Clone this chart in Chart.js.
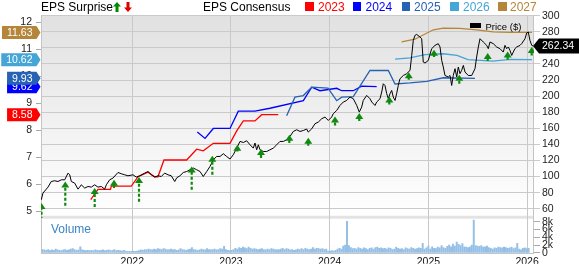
<!DOCTYPE html>
<html><head><meta charset="utf-8">
<script src="https://cdn.jsdelivr.net/npm/chart.js@4.4.1/dist/chart.umd.min.js"></script>
<style>
html,body{margin:0;padding:0;background:#fff;}
#wrap{position:relative;width:579px;height:264px;overflow:hidden;font-family:"Liberation Sans",Arial,sans-serif;}
canvas{position:absolute;left:0;top:0;}
.t{position:absolute;white-space:nowrap;font-size:12px;line-height:14px;top:0;color:#000;}
.sq{position:absolute;top:2px;width:8.5px;height:8.5px;}
</style></head>
<body>
<div id="wrap">
<canvas id="c" width="579" height="264"></canvas>
<div class="t" style="left:41px">EPS Surprise</div>
<svg style="position:absolute;left:113px;top:2px" width="20" height="11" viewBox="0 0 20 11">
 <path d="M4 0 L8 4.5 L5.5 4.5 L5.5 10 L2.5 10 L2.5 4.5 L0 4.5 Z" fill="#008a00"/>
 <path d="M15 10 L19 5.5 L16.5 5.5 L16.5 0 L13.5 0 L13.5 5.5 L11 5.5 Z" fill="#e00000"/>
</svg>
<div class="t" style="left:203px">EPS Consensus</div>
<div class="sq" style="left:305px;background:#ff0000"></div><div class="t" style="left:318px;color:#ff0000">2023</div>
<div class="sq" style="left:352.5px;background:#0000ff"></div><div class="t" style="left:365.5px;color:#0000ff">2024</div>
<div class="sq" style="left:401.5px;background:#2862b4"></div><div class="t" style="left:414px;color:#2862b4">2025</div>
<div class="sq" style="left:450px;background:#45a5d6"></div><div class="t" style="left:463px;color:#45a5d6">2026</div>
<div class="sq" style="left:498px;background:#b5853a"></div><div class="t" style="left:510px;color:#b5853a">2027</div>
<div style="position:absolute;left:470px;top:23px;width:11px;height:5px;background:#000"></div>
<div class="t" style="left:485.5px;top:20.5px;font-size:9.5px;line-height:11px">Price ($)</div>
<div class="t" style="left:51px;top:221.5px;color:#3a85c8">Volume</div>
</div>
<script>
// ---------------- data ----------------
const yearTicks = [2022, 2023, 2024, 2025, 2026];
const priceTicks = [60, 80, 100, 120, 140, 160, 180, 200, 220, 240, 260, 280, 300];
const epsTicks = [5, 6, 7, 8, 9, 10, 11, 12];
const volumeTicks = [0, 2, 4, 6, 8];

const priceYears = [2021.078,2021.095,2021.146,2021.179,2021.214,2021.247,2021.281,2021.315,2021.349,2021.366,2021.382,2021.416,2021.45,2021.467,2021.483,2021.518,2021.551,2021.585,2021.619,2021.652,2021.686,2021.72,2021.737,2021.771,2021.804,2021.855,2021.889,2021.923,2021.956,2022.007,2022.041,2022.075,2022.126,2022.159,2022.193,2022.227,2022.26,2022.294,2022.328,2022.362,2022.395,2022.43,
2022.45,2022.483,2022.517,2022.551,2022.585,2022.618,2022.652,2022.686,2022.719,2022.754,2022.787,2022.821,2022.855,2022.889,2022.922,2022.956,2022.99,2023.023,2023.058,2023.091,2023.125,2023.159,2023.193,2023.226,2023.243,2023.26,2023.277,2023.294,2023.327,2023.362,2023.395,2023.429,2023.463,2023.496,2023.53,2023.564,2023.598,2023.631,2023.666,2023.699,2023.733,2023.767,
2023.783,2023.818,2023.851,2023.885,2023.919,2023.952,2023.986,2024.02,2024.036,2024.071,2024.104,2024.138,2024.172,2024.206,2024.239,2024.274,2024.3,2024.324,2024.34,2024.375,2024.408,2024.426,2024.459,2024.476,2024.51,2024.527,2024.543,2024.56,2024.578,2024.594,2024.611,2024.628,2024.644,2024.662,2024.678,2024.695,2024.712,2024.746,2024.78,2024.814,2024.831,2024.847,2024.864,2024.881,2024.915,
2024.932,2024.948,2024.966,2024.999,2025.033,2025.067,2025.1,2025.118,2025.135,2025.151,2025.168,2025.202,2025.219,2025.236,2025.252,2025.27,2025.287,2025.303,2025.32,2025.337,2025.354,2025.371,2025.404,2025.439,2025.472,2025.489,2025.506,2025.523,2025.556,2025.591,2025.607,2025.624,2025.658,2025.692,2025.725,2025.759,2025.776,2025.793,2025.81,2025.827,2025.844,2025.86,2025.877,2025.895,2025.928,2025.945,2025.979,2025.996,2026.012,2026.029,2026.047,2026.06];
const priceValues = [71.1,79.5,86.9,93.9,94.8,93.9,96.0,96.0,104.3,102.2,93.9,91.9,84.4,86.9,89.8,85.7,87.7,86.9,89.8,86.9,87.7,84.4,89.8,96.0,98.1,105.1,103.5,102.2,101.0,102.2,99.4,101.0,104.3,106.3,102.2,99.4,101.0,100.1,104.3,102.2,101.0,93.9,
98.5,101.0,105.1,106.3,108.5,110.6,108.5,106.3,100.1,106.3,112.6,120.9,125.0,125.0,128.4,125.0,121.8,127.1,135.4,143.7,142.4,144.5,139.5,135.4,141.7,133.3,139.5,133.3,131.2,131.2,133.3,135.4,139.5,143.7,143.7,145.8,149.9,156.1,158.2,156.1,157.3,159.1,
155.3,159.4,165.7,167.8,171.9,174.0,169.8,174.0,178.1,182.2,188.4,192.7,194.6,198.9,196.8,188.4,180.2,186.4,194.6,200.9,196.8,192.7,188.4,192.7,196.8,205.1,215.4,213.3,203.0,196.8,203.0,207.1,198.9,194.6,203.0,213.3,221.6,225.7,227.9,232.0,250.6,269.3,275.5,276.7,273.5,
271.4,242.4,241.2,244.4,259.0,263.1,265.2,261.1,244.4,236.2,225.7,223.8,225.7,213.3,225.7,234.1,223.8,236.2,227.9,232.0,238.2,230.0,225.7,225.7,234.1,248.6,261.1,271.4,267.3,263.1,259.0,267.3,265.2,261.1,259.0,254.8,263.1,259.0,261.1,256.8,250.6,254.8,259.0,261.1,263.1,265.2,271.4,278.5,279.7,269.3,263.1,262.34];

const eps2023Years = [2021.579,2021.652,2021.779,2021.787,2021.99,2022.058,2022.159,2022.227,2022.26,2022.321,2022.551,2022.652,2022.719,2022.821,2022.99,2023.058,2023.125,2023.243,2023.311,2023.479];
const eps2023Values = [5.43,5.81,5.81,5.93,5.93,6.28,6.45,6.28,6.28,6.90,6.90,7.30,7.24,7.52,7.52,7.98,8.35,8.35,8.58,8.58];
const eps2024Years = [2022.659,2022.737,2022.821,2022.99,2023.074,2023.243,2023.395,2023.733,2023.818,2023.902,2024.071,2024.122,2024.239,2024.324,2024.476];
const eps2024Values = [7.94,7.70,8.07,8.07,8.71,8.71,8.82,9.10,9.60,9.47,9.56,9.47,9.47,9.64,9.62];
const eps2025Years = [2023.564,2023.648,2023.733,2023.818,2023.983,2024.071,2024.122,2024.239,2024.408,2024.594,2024.662,2024.814,2024.983,2025.151,2025.472];
const eps2025Values = [8.54,9.23,9.29,9.60,9.57,9.10,9.23,9.25,10.22,10.22,9.72,9.76,9.82,9.95,9.93];
const eps2026Years = [2024.662,2024.814,2024.966,2025.148,2025.29,2025.401,2025.655,2025.827,2026.05];
const eps2026Values = [10.64,10.69,10.81,10.84,10.78,10.62,10.57,10.63,10.62];
const eps2027Years = [2024.729,2024.864,2025.05,2025.151,2025.32,2025.489,2025.658,2025.827,2026.05];
const eps2027Values = [11.28,11.38,11.73,11.79,11.78,11.73,11.65,11.63,11.63];

const surpriseYears = [2021.08,2021.321,2021.619,2021.815,2022.068,2022.602,2022.811,2023.064,2023.304,2023.591,2023.783,2024.054,2024.3,2024.604,2024.801,2025.057,2025.313,2025.601,2025.803,2026.047];
const surpriseFrom = [40,63.7,62.1,85.7,68.6,83.6,102.2,131.2,123.0,141.7,138.3,163.6,169.0,189.7,220.4,248.6,215.4,243.6,245.3,250.6];
const surpriseTo = [67.0,93.9,85.7,96.0,99.4,112.6,125.9,139.5,134.2,152.0,148.3,174.7,179.0,199.6,229.7,257.7,226.6,253.6,255.6,261.1];

const volumeStartYear = 2021.09;
const vol2021 = [0.9,0.8,0.7,0.9,0.6,0.8,0.7,1.0,0.8,0.7,0.6,0.8,0.9,0.7,0.8,1.0,1.1,0.9,0.7,0.8,1.6,0.8,0.7,0.6,0.7,0.6,0.7,0.6,0.8,0.7,0.6,0.7,0.8,0.6,0.7,0.8,0.6,0.7,0.9,0.6,0.7,0.6,0.5,0.7,0.5,0.4,0.4];
const vol2022 = [0.4,0.5,0.4,0.5,0.6,0.8,0.7,0.9,0.8,1.0,0.9,0.8,1.0,0.9,1.1,1.0,0.9,1.1,1.0,0.8,0.9,1.0,0.8,0.9,0.7,0.8,1.1,0.9,0.8,0.7,0.9,1.0,1.4,0.9,0.8,0.7,0.8,1.0,0.9,0.8,1.1,0.9,0.8,0.9,1.0,0.8,0.9,1.1,1.0,1.7,0.9,0.7];
const vol2023 = [0.6,0.7,0.9,1.2,1.0,1.4,1.2,1.5,1.3,1.1,1.5,1.2,1.0,1.1,1.0,0.9,1.0,1.1,0.9,0.8,1.0,0.9,1.1,1.0,0.9,0.8,0.9,1.0,1.2,0.9,1.1,1.0,0.8,0.9,0.7,0.8,1.0,0.9,1.1,0.9,1.2,1.0,0.9,1.0,1.4,1.0,1.2,1.1,1.0,1.1,0.9,1.0];
const vol2024 = [0.5,0.5,0.6,0.5,0.7,1.0,1.2,1.0,1.8,2.0,8.1,1.9,1.4,1.1,1.2,1.0,1.4,1.2,1.0,1.3,1.1,0.9,1.2,1.3,1.0,1.4,1.5,1.2,1.3,1.1,1.2,1.0,1.3,1.2,0.9,1.0,1.5,1.2,1.0,1.1,0.9,1.3,1.1,1.0,1.4,1.2,1.0,1.1,1.3,1.2,2.5,1.0];
const vol2025 = [1.3,1.8,1.0,1.6,1.2,1.1,1.5,1.3,1.9,1.4,1.2,1.7,2.0,1.6,2.3,1.8,2.8,2.2,1.9,2.4,1.6,1.5,1.4,1.6,2.0,8.4,1.9,1.8,1.7,1.9,1.5,1.6,1.8,1.4,1.2,1.0,1.3,1.2,1.5,1.4,1.3,1.5,1.4,1.2,1.3,1.5,1.1,1.3,2.5,1.0,0.8,1.2];
const vol2026 = [1.3,1.1,1.2];

// ---------------- build ----------------
const FONT = '"Liberation Sans", Arial, sans-serif';
Chart.defaults.font.family = FONT;
const volumeK = [].concat(vol2021, vol2022, vol2023, vol2024, vol2025, vol2026);
const weekStep = 7 / 365.25;
const pts = (xs, ys) => xs.map((x, i) => ({x: x, y: ys[i]}));

const epsSeries = [
  {label:'2023', years:eps2023Years, values:eps2023Values, color:'#ff0000'},
  {label:'2024', years:eps2024Years, values:eps2024Values, color:'#0000ff'},
  {label:'2025', years:eps2025Years, values:eps2025Values, color:'#2862b4'},
  {label:'2026', years:eps2026Years, values:eps2026Values, color:'#45a5d6'},
  {label:'2027', years:eps2027Years, values:eps2027Values, color:'#b5853a'}
];

const datasets = [
  {type:'line', label:'Price', data:pts(priceYears, priceValues), yAxisID:'yP', borderColor:'#000', borderWidth:1, pointRadius:0, tension:0}
];
epsSeries.slice().reverse().forEach(s => datasets.push({
  type:'line', label:s.label, data:pts(s.years, s.values), yAxisID:'yE', borderColor:s.color, borderWidth:1.3, pointRadius:0, tension:0
}));
datasets.push({
  type:'bar', label:'Volume', data:volumeK.map((v, i) => ({x: volumeStartYear + i * weekStep, y: v})),
  yAxisID:'yV', backgroundColor:'#94bfe6', barThickness:1.3, borderWidth:0
});

const panelsPlugin = {
  id:'panels',
  beforeDraw(chart){
    const {ctx, chartArea:a, scales} = chart;
    const sepTop = scales.yP.bottom - 3, sepBot = scales.yP.bottom;
    ctx.save();
    const g = ctx.createLinearGradient(0, a.top, 0, sepTop);
    g.addColorStop(0, '#e1e1e1'); g.addColorStop(1, '#ffffff');
    ctx.fillStyle = g; ctx.fillRect(a.left, a.top, a.right - a.left, sepTop - a.top);
    ctx.fillStyle = '#e3e3e3'; ctx.fillRect(a.left, sepTop, a.right - a.left, sepBot - sepTop);
    ctx.restore();
  },
  beforeDatasetsDraw(chart){
    const {ctx, chartArea:a} = chart;
    ctx.save(); ctx.strokeStyle = '#c4c4c4'; ctx.lineWidth = 1;
    ctx.beginPath();
    ctx.moveTo(Math.round(a.left) + 0.5, a.top); ctx.lineTo(Math.round(a.left) + 0.5, a.bottom);
    ctx.moveTo(Math.round(a.right) - 0.5, a.top); ctx.lineTo(Math.round(a.right) - 0.5, a.bottom);
    ctx.moveTo(a.left, Math.round(a.bottom) - 0.5); ctx.lineTo(a.right, Math.round(a.bottom) - 0.5);
    ctx.stroke(); ctx.restore();
  },
  afterDatasetsDraw(chart){
    const {ctx, chartArea:a, scales} = chart;
    const x = scales.x, yP = scales.yP;
    const sepTop = yP.bottom - 3;
    ctx.save();
    ctx.beginPath(); ctx.rect(a.left, a.top, a.right - a.left, sepTop + 2 - a.top); ctx.clip();
    ctx.fillStyle = '#0f8a0f'; ctx.strokeStyle = '#0f8a0f';
    surpriseYears.forEach((yr, i) => {
      const px = x.getPixelForValue(yr);
      const tip = yP.getPixelForValue(surpriseTo[i]);
      const tail = yP.getPixelForValue(surpriseFrom[i]);
      ctx.setLineDash([3, 2]); ctx.lineWidth = 2.2;
      ctx.beginPath(); ctx.moveTo(px, tail); ctx.lineTo(px, tip + 5); ctx.stroke();
      ctx.setLineDash([]);
      ctx.beginPath(); ctx.moveTo(px, tip); ctx.lineTo(px + 4, tip + 6); ctx.lineTo(px - 4, tip + 6); ctx.closePath(); ctx.fill();
    });
    ctx.restore();
  },
  afterDraw(chart){
    const {ctx, chartArea:a, scales} = chart;
    const yE = scales.yE, yP = scales.yP;
    ctx.save();
    ctx.font = '10.5px ' + FONT; ctx.textBaseline = 'middle'; ctx.textAlign = 'left';
    epsSeries.forEach(s => {
      const v = s.values[s.values.length - 1];
      const txt = v.toFixed(2);
      const y = yE.getPixelForValue(v);
      const w = ctx.measureText(txt).width;
      const tipX = a.left - 0.5, right = tipX - 4, left = right - 4 - w - 5, h = 13;
      ctx.fillStyle = s.color;
      ctx.beginPath(); ctx.moveTo(left, y - h / 2); ctx.lineTo(right, y - h / 2); ctx.lineTo(tipX, y);
      ctx.lineTo(right, y + h / 2); ctx.lineTo(left, y + h / 2); ctx.closePath(); ctx.fill();
      ctx.fillStyle = '#fff'; ctx.fillText(txt, left + 5, y + 0.5);
    });
    const last = priceValues[priceValues.length - 1];
    const py = yP.getPixelForValue(last);
    const tX = a.right - 1, bL = tX + 6, h2 = 15;
    ctx.fillStyle = '#000';
    ctx.beginPath(); ctx.moveTo(tX, py); ctx.lineTo(bL, py - h2 / 2); ctx.lineTo(chart.width, py - h2 / 2);
    ctx.lineTo(chart.width, py + h2 / 2); ctx.lineTo(bL, py + h2 / 2); ctx.closePath(); ctx.fill();
    ctx.fillStyle = '#fff'; ctx.fillText(last.toFixed(2), bL + 3, py + 0.5);
    ctx.restore();
  }
};

const tickFont = {size:10.5, family:FONT};
new Chart(document.getElementById('c'), {
  type:'line',
  data:{datasets:datasets},
  plugins:[panelsPlugin],
  options:{
    responsive:false, animation:false, devicePixelRatio:1,
    layout:{padding:{top:15, left:0, right:0, bottom:0}},
    plugins:{legend:{display:false}, tooltip:{enabled:false}},
    scales:{
      x:{type:'linear', position:'bottom', min:2021.075, max:2026.07, offset:false,
        afterBuildTicks:s => { s.ticks = yearTicks.map(v => ({value:v})); },
        afterFit:s => { s.height = 10; },
        ticks:{callback:v => String(v), font:tickFont, color:'#111', padding:2, maxRotation:0, autoSkip:false},
        grid:{color:'#c8c8c8', drawTicks:false, offset:false}, border:{display:false}},
      yE:{type:'linear', position:'left', min:3.426, max:12.278,
        afterBuildTicks:s => { s.ticks = epsTicks.map(v => ({value:v})); },
        afterFit:s => { s.width = 41; },
        ticks:{font:tickFont, color:'#222', padding:4, autoSkip:false},
        grid:{drawOnChartArea:false, tickLength:5, color:'#aaa'}, border:{display:false}},
      yP:{type:'linear', position:'right', stack:'right', stackWeight:204, min:47.58, max:300.87,
        afterBuildTicks:s => { s.ticks = priceTicks.map(v => ({value:v})); },
        afterFit:s => { s.width = 45; },
        ticks:{font:tickFont, color:'#222', padding:2, autoSkip:false},
        grid:{color:'#cacaca', tickLength:6}, border:{display:false}},
      yV:{type:'linear', position:'right', stack:'right', stackWeight:35, min:-0.18, max:8.77,
        afterBuildTicks:s => { s.ticks = volumeTicks.map(v => ({value:v})); },
        afterFit:s => { s.width = 45; },
        ticks:{font:tickFont, color:'#222', padding:2, autoSkip:false, callback:v => v === 0 ? '0' : v + 'k'},
        grid:{drawOnChartArea:false, tickLength:6, color:'#aaa'}, border:{display:false}}
    }
  }
});
</script>
</body></html>
